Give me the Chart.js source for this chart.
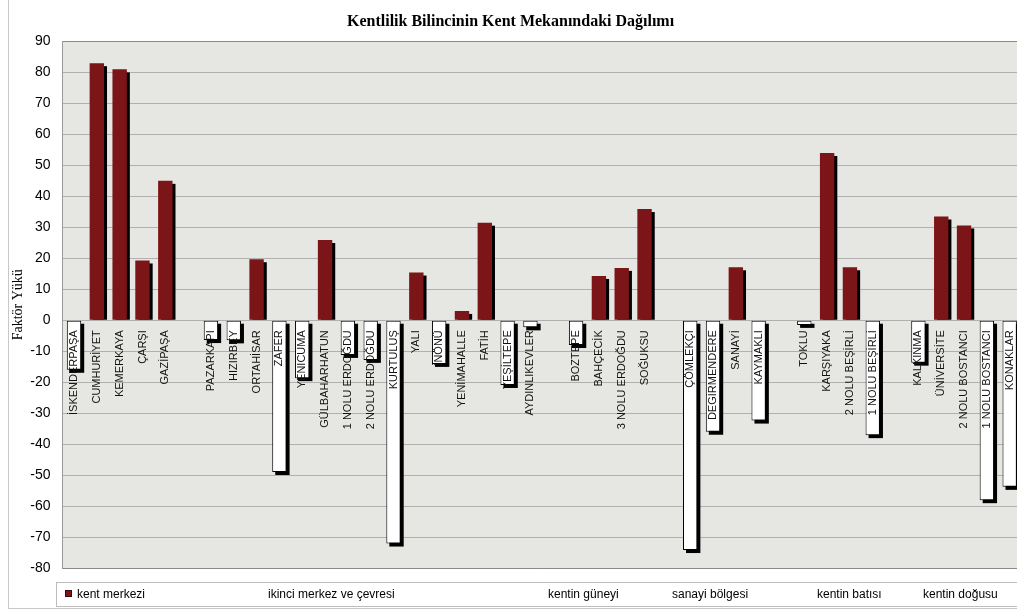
<!DOCTYPE html>
<html>
<head>
<meta charset="utf-8">
<title>Kentlilik Bilincinin Kent Mekanındaki Dağılımı</title>
<script src="https://cdn.jsdelivr.net/npm/chart.js@4.4.1/dist/chart.umd.min.js"></script>
<style>
  html, body { margin: 0; padding: 0; background: #fff; overflow: hidden; }
  canvas { display: block; }
</style>
</head>
<body>
<canvas id="chart" width="1042" height="611"></canvas>
<script>
// mahalleler (bos string = gruplar arasi bosluk)
const categories = [
  "İSKENDERPAŞA", "CUMHURİYET", "KEMERKAYA", "ÇARŞI", "GAZİPAŞA", "",
  "PAZARKAPI", "HIZIRBEY", "ORTAHİSAR", "ZAFER", "YENİCUMA", "GÜLBAHARHATUN",
  "1 NOLU ERDOĞDU", "2 NOLU ERDOĞDU", "KURTULUŞ", "YALI", "İNÖNÜ", "YENİMAHALLE",
  "FATİH", "YEŞİLTEPE", "AYDINLIKEVLER", "",
  "BOZTEPE", "BAHÇECİK", "3 NOLU ERDOĞDU", "SOĞUKSU", "",
  "ÇÖMLEKÇİ", "DEGİRMENDERE", "SANAYİ", "KAYMAKLI", "",
  "TOKLU", "KARŞIYAKA", "2 NOLU BEŞİRLİ", "1 NOLU BEŞİRLİ", "",
  "KALKINMA", "ÜNİVERSİTE", "2 NOLU BOSTANCI", "1 NOLU BOSTANCI", "KONAKLAR"
];
const values = [
  -16, 83, 81, 19.3, 45, null,
  -6.4, -6.5, 19.7, -49, -18.7, 25.9,
  -11.2, -12.8, -72.1, 15.4, -14.1, 3.0,
  31.5, -20.9, -2.3, null,
  -8, 14.3, 16.9, 35.9, null,
  -74.2, -36, 17.1, -32.4, null,
  -1.5, 54, 17.1, -37.1, null,
  -13.7, 33.5, 30.6, -58.1, -53.8
];
const groups = ["kent merkezi", "ikinci merkez ve çevresi", "kentin güneyi",
  "sanayi bölgesi", "kentin batısı", "kentin doğusu"];
const yTicks = [90, 80, 70, 60, 50, 40, 30, 20, 10, 0, -10, -20, -30, -40, -50, -60, -70, -80];

const MAROON = "#7b1518";

// golge: cubugun sag-alt tarafinda siyah kayik dikdortgen
const barShadow = {
  id: "barShadow",
  beforeDatasetsDraw(chart, args, opts) {
    const ctx = chart.ctx;
    const meta = chart.getDatasetMeta(0);
    ctx.save();
    ctx.fillStyle = opts.color;
    meta.data.forEach((bar, i) => {
      if (values[i] == null) return;
      const p = bar.getProps(["x", "y", "base", "width"], true);
      const top = Math.min(p.y, p.base) + opts.offset;
      let bottom = Math.max(p.y, p.base) + opts.offset;
      if (values[i] > 0) bottom = p.base;
      ctx.fillRect(p.x - p.width / 2 + opts.offset, top, p.width, bottom - top);
    });
    ctx.restore();
  }
};

// cizim alani zemini, dis cerceve ve alttaki grup seridi
const frame = {
  id: "frame",
  beforeDraw(chart, args, opts) {
    const { ctx, chartArea: a } = chart;
    ctx.save();
    ctx.fillStyle = opts.plotColor;
    ctx.fillRect(a.left, a.top, a.right - a.left, a.bottom - a.top);
    ctx.strokeStyle = "#c8c8c8";
    ctx.lineWidth = 1;
    ctx.strokeRect(8.5, -5, chart.width + 20, 613.5);
    ctx.restore();
  },
  afterDraw(chart, args, opts) {
    const ctx = chart.ctx;
    ctx.save();
    ctx.fillStyle = "#fff";
    ctx.strokeStyle = "#bdbdbd";
    ctx.fillRect(56.5, 582.5, chart.width, 24);
    ctx.strokeRect(56.5, 582.5, chart.width, 24);
    ctx.fillStyle = MAROON;
    ctx.fillRect(65, 590, 7, 7);
    ctx.strokeStyle = "#3a0a0a";
    ctx.strokeRect(65.5, 590.5, 6, 6);
    ctx.fillStyle = "#000";
    ctx.font = "12px 'Liberation Sans', Arial, sans-serif";
    ctx.textBaseline = "middle";
    groups.forEach((g, i) => ctx.fillText(g, opts.xs[i], 594.5));
    ctx.restore();
  }
};

Chart.defaults.font.family = "'Liberation Sans', Arial, sans-serif";

new Chart(document.getElementById("chart"), {
  type: "bar",
  data: {
    labels: categories,
    datasets: [{
      data: values,
      backgroundColor: (c) => (values[c.dataIndex] < 0 ? "#ffffff" : MAROON),
      borderColor: (c) => (values[c.dataIndex] < 0 ? "#000000" : MAROON),
      borderWidth: (c) => (values[c.dataIndex] < 0 ? 1 : 0),
      borderSkipped: false,
      barPercentage: 0.63,
      categoryPercentage: 1,
    }],
  },
  options: {
    responsive: false,
    animation: false,
    layout: { padding: { left: 0, right: 20.9, top: 0, bottom: 43 } },
    plugins: {
      legend: { display: false },
      tooltip: { enabled: false },
      title: {
        display: true,
        text: "Kentlilik Bilincinin Kent Mekanındaki Dağılımı",
        color: "#000",
        font: { family: "'Liberation Serif', 'Times New Roman', serif", size: 16, weight: "bold" },
        padding: { top: 12, bottom: 10.3 },
      },
      barShadow: { color: "#000", offset: 3 },
      frame: { plotColor: "#e6e6e3", xs: [77, 268, 548, 672, 817, 923] },
    },
    scales: {
      x: {
        position: { y: 0 },
        offset: true,
        grid: { display: false, drawTicks: false },
        border: { display: false },
        ticks: {
          z: 1,
          autoSkip: false, minRotation: 90, maxRotation: 90, padding: 10,
          color: "#111", font: { size: 11 },
        },
        afterFit: (s) => { s.height = 0; },
      },
      y: {
        min: -80,
        max: 90,
        afterBuildTicks: (s) => { s.ticks = yTicks.map((v) => ({ value: v })); },
        grid: {
          drawTicks: false,
          color: (c) => (c.tick && (c.tick.value === 90 || c.tick.value === -80) ? "#8a8a8a" : "#b0b0b0"),
        },
        border: { color: "#999" },
        ticks: { padding: 12, color: "#000", font: { size: 14 } },
        title: {
          display: true,
          text: "Faktör Yükü",
          color: "#000",
          font: { family: "'Liberation Serif', 'Times New Roman', serif", size: 14 },
          padding: { top: 10, bottom: 0 },
        },
        afterFit: (s) => { s.width = 62.6; },
      },
    },
  },
  plugins: [barShadow, frame],
});
</script>
</body>
</html>
